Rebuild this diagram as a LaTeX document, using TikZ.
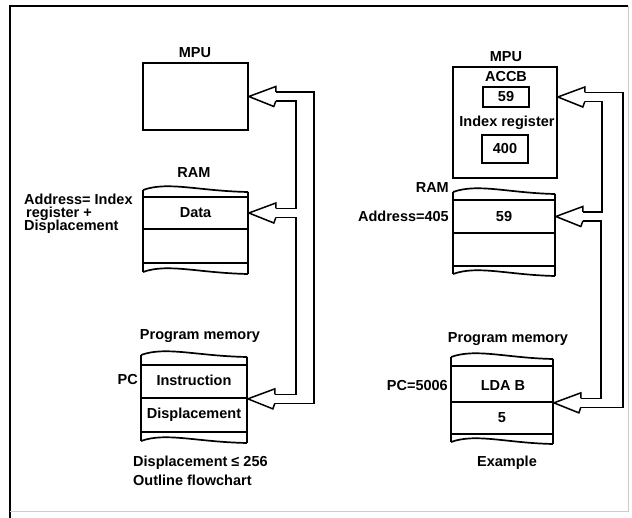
\documentclass[tikz,border=0pt]{standalone}
\usepackage{fontspec}
\setmainfont{Liberation Sans}
\newcommand\memwave[3]{\draw[ln] (#1,#3) .. controls ({#1+25},{#3-9}) and ({#1+55},{#3+1}) .. (#2,{#3+2});}
\newcommand\memstack[6]{%
  \draw[ln] (#1,#3) -- (#1,#4);
  \draw[ln] (#2,{#3+2}) -- (#2,#4);
  \draw[ln] (#1,#5) -- (#1,#6);
  \draw[ln] (#2,#5) -- (#2,{#6+2});
  \memwave{#1}{#2}{#3}
  \memwave{#1}{#2}{#6}}
\newcommand\hollowhead[1]{%
  \draw[arr] ([shift={(27,-4.5)}]#1) -- ([shift={(27,-10)}]#1) -- (#1) -- ([shift={(25,10)}]#1) -- ([shift={(27,4.5)}]#1);}
\begin{document}
\begin{tikzpicture}[x=1pt,y=-1pt,line join=miter,
  lbl/.style={font=\fontsize{14.5}{14.5}\selectfont\bfseries,inner sep=0pt,anchor=base},
  cell/.style={draw,line width=1.7pt,inner sep=0pt,rectangle},
  ln/.style={line width=1.7pt},
  arr/.style={line width=1.5pt,line join=miter}]
\useasboundingbox (0,0) rectangle (632,518);
% frame
\draw[line width=1.8pt] (10,518) -- (10,6) -- (628,6);
\draw[black!20,line width=0.8pt] (628,6) -- (628,511) -- (10,511);

% ===== left diagram =====
\node[lbl] (mpuLt) at (195,58) {MPU};
\node[cell,minimum width=105pt,minimum height=67pt] (mpuL) at (195.5,96.5) {};
\node[lbl] (ramLt) at (194,178) {RAM};
\node[cell,minimum width=105pt,minimum height=32pt] (ramLd) at (195.5,213) {};
\node[cell,minimum width=105pt,minimum height=34pt] (ramLe) at (195.5,246) {};
\memstack{143}{248}{190}{197}{263}{272}
\node[lbl] (ramLdt) at (ramLd.center |- 0,218) {Data};
\node[lbl,anchor=base west] (addrL1) at (24,205) {Address= Index};
\node[lbl,anchor=base west] (addrL2) at (26,218) {register +};
\node[lbl,anchor=base west] (addrL3) at (24,231) {Displacement};

\node[lbl] (pmLt) at (200,340) {Program memory};
\node[cell,minimum width=106pt,minimum height=33pt] (pmLi) at (194,381.5) {};
\node[cell,minimum width=106pt,minimum height=34pt] (pmLd) at (194,415) {};
\memstack{141}{247}{355}{365}{432}{441}
\node[lbl] (pmLit) at (194,386) {Instruction};
\node[lbl] (pmLdt) at (194,419) {Displacement};
\node[lbl,anchor=base east] (pcL) at (138,385) {PC};
\node[lbl,anchor=base west] (noteL1) at (133,467) {Displacement ≤ 256};
\node[lbl,anchor=base west] (noteL2) at (133,485) {Outline flowchart};

% left arrows
\coordinate (lA) at (mpuL.east);
\coordinate (lB) at (ramLd.east);
\coordinate (lC) at (pmLi.south east);
\hollowhead{lA}
\hollowhead{lB}
\hollowhead{lC}
\draw[arr] ([shift={(27,-4.5)}]lA) -- ++(38,0) |- ([shift={(27,4.5)}]lC);
\draw[arr] ([shift={(27,4.5)}]lA) -- ++(20,0) |- ([shift={(27,-4.5)}]lB);
\draw[arr] ([shift={(27,4.5)}]lB) -- ++(20,0) |- ([shift={(27,-4.5)}]lC);

% ===== right diagram =====
\node[lbl] (mpuRt) at (506,62) {MPU};
\node[cell,minimum width=104pt,minimum height=111pt] (mpuR) at (505,122.5) {};
\node[lbl] (accbt) at (506,82) {ACCB};
\node[cell,minimum width=46pt,minimum height=20pt] (accb) at (506,97) {};
\node[lbl] (accbv) at (accb.center |- 0,102) {59};
\node[lbl] (idxt) at (507,127) {Index register};
\node[cell,minimum width=46pt,minimum height=28pt] (idx) at (505,149) {};
\node[lbl] (idxv) at (idx.center |- 0,154) {400};

\node[lbl,anchor=base east] (ramRt) at (449,193) {RAM};
\node[cell,minimum width=102pt,minimum height=33pt] (ramRd) at (504,216.5) {};
\node[cell,minimum width=102pt,minimum height=33pt] (ramRe) at (504,249.5) {};
\memstack{453}{555}{192}{200}{266}{274}
\node[lbl] (ramRdt) at (ramRd.center |- 0,222) {59};
\node[lbl,anchor=base east] (addrR) at (449,222) {Address=405};

\node[lbl] (pmRt) at (508,343) {Program memory};
\node[cell,minimum width=102pt,minimum height=36pt] (pmRl) at (502,384) {};
\node[cell,minimum width=102pt,minimum height=32pt] (pmR5) at (502,418) {};
\memstack{451}{553}{357}{366}{434}{442}
\node[lbl] (pmRlt) at (503,391) {LDA B};
\node[lbl] (pmR5t) at (502,423) {5};
\node[lbl,anchor=base east] (pcR) at (448,391) {PC=5006};
\node[lbl] (exR) at (507,467) {Example};

% right arrows
\coordinate (rA) at (mpuR.east |- accb.center);
\coordinate (rB) at (ramRd.east);
\coordinate (rC) at (pmRl.south east);
\hollowhead{rA}
\hollowhead{rB}
\hollowhead{rC}
\draw[arr] ([shift={(27,-4.5)}]rA) -- ++(38,0) |- ([shift={(27,4.5)}]rC);
\draw[arr] ([shift={(27,4.5)}]rA) -- ++(17,0) |- ([shift={(27,-4.5)}]rB);
\draw[arr] ([shift={(27,4.5)}]rB) -- ++(18,0) |- ([shift={(27,-4.5)}]rC);
\end{tikzpicture}
\end{document}
